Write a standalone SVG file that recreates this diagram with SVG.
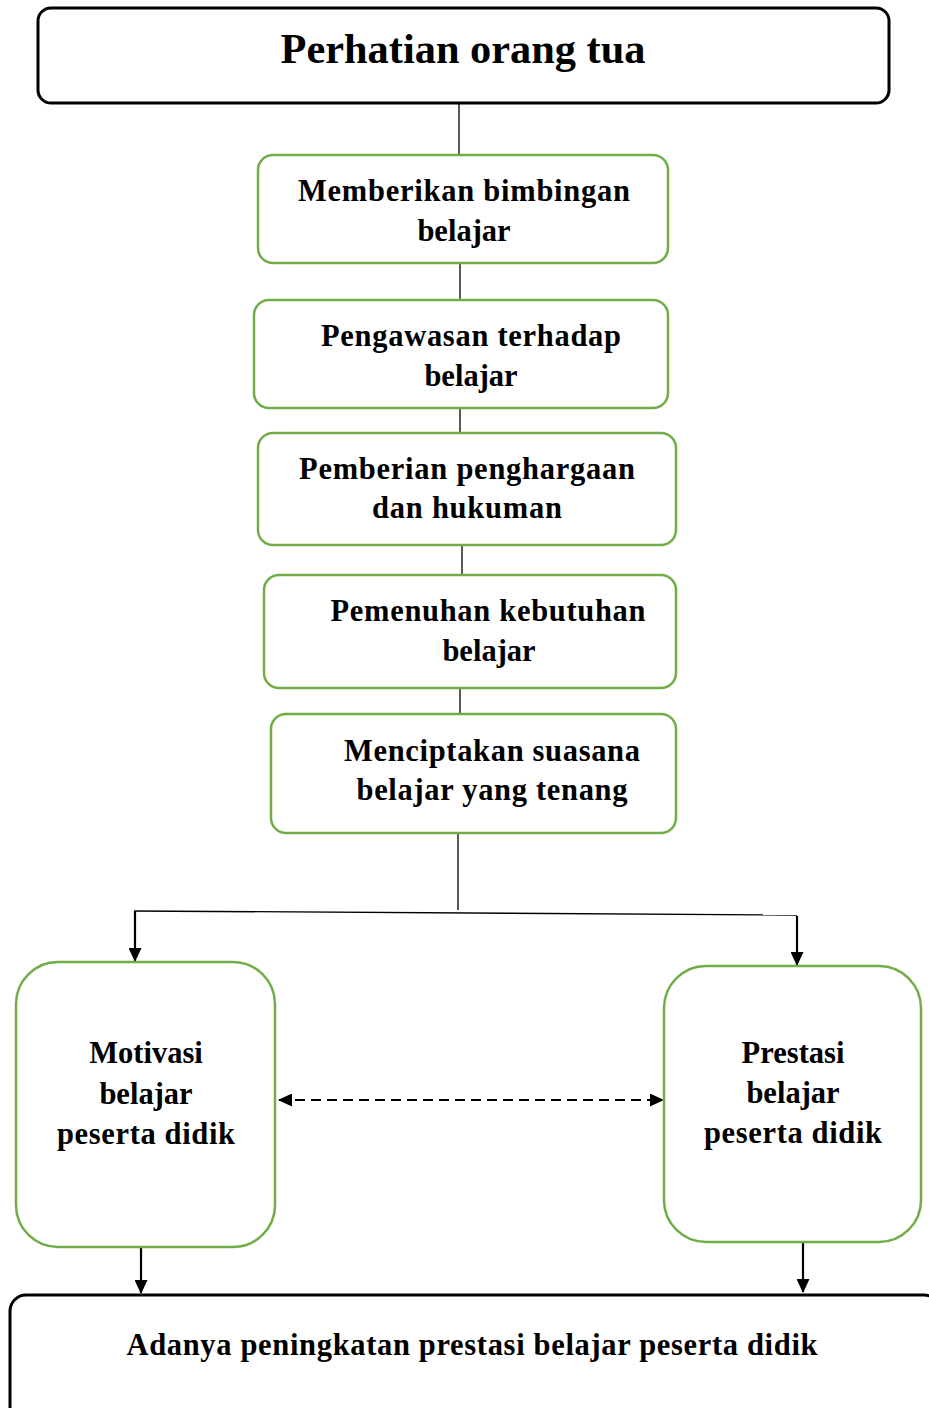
<svg xmlns="http://www.w3.org/2000/svg" width="929" height="1408" viewBox="0 0 929 1408">
<style>
.blk{fill:#fff;stroke:#000;stroke-width:3}
.grn{fill:#fff;stroke:#70AD47;stroke-width:2.5}
.t{font-family:"Liberation Serif","Times New Roman",serif;font-weight:bold;fill:#000;text-anchor:middle}
.m{font-size:30.5px}
.ln{stroke:#000;stroke-width:1.3;fill:none}
.ar{stroke:#000;stroke-width:2.2;fill:none}
</style>
<defs>
<marker id="ah" viewBox="0 0 14 13" refX="13" refY="6.5" markerWidth="14" markerHeight="13" orient="auto-start-reverse" markerUnits="userSpaceOnUse">
<path d="M0,0 L14,6.5 L0,13 z" fill="#000"/>
</marker>
</defs>
<g id="connectors">
<line class="ln" x1="459" y1="103" x2="459" y2="155"/>
<line class="ln" x1="460" y1="263" x2="460" y2="300"/>
<line class="ln" x1="460" y1="408" x2="460" y2="433"/>
<line class="ln" x1="462" y1="545" x2="462" y2="575"/>
<line class="ln" x1="460" y1="688" x2="460" y2="714"/>
<line class="ln" x1="458" y1="833" x2="458" y2="910"/>
<line class="ln" x1="134" y1="911" x2="797" y2="915"/>
<line class="ar" x1="135" y1="911" x2="135" y2="961" marker-end="url(#ah)"/>
<line class="ar" x1="797" y1="916" x2="797" y2="965" marker-end="url(#ah)"/>
<line class="ar" x1="279" y1="1100" x2="663" y2="1100" stroke-dasharray="10,6" marker-start="url(#ah)" marker-end="url(#ah)"/>
<line class="ar" x1="141" y1="1245" x2="141" y2="1293" marker-end="url(#ah)"/>
<line class="ar" x1="803" y1="1243" x2="803" y2="1292" marker-end="url(#ah)"/>
</g>
<g id="n-top">
<rect class="blk" x="38" y="8" width="851" height="95" rx="13"/>
<text class="t" x="463" y="63" font-size="42" textLength="365" lengthAdjust="spacingAndGlyphs">Perhatian orang tua</text>
</g>
<g id="n1">
<rect class="grn" x="258" y="155" width="410" height="108" rx="15"/>
<text class="t m" x="464" y="201" textLength="332" lengthAdjust="spacing">Memberikan bimbingan</text>
<text class="t m" x="464" y="241">belajar</text>
</g>
<g id="n2">
<rect class="grn" x="254" y="300" width="414" height="108" rx="15"/>
<text class="t m" x="471" y="346" textLength="300" lengthAdjust="spacing">Pengawasan terhadap</text>
<text class="t m" x="471" y="386">belajar</text>
</g>
<g id="n3">
<rect class="grn" x="258" y="433" width="418" height="112" rx="15"/>
<text class="t m" x="467" y="479" textLength="336" lengthAdjust="spacing">Pemberian penghargaan</text>
<text class="t m" x="467" y="518" textLength="190" lengthAdjust="spacing">dan hukuman</text>
</g>
<g id="n4">
<rect class="grn" x="264" y="575" width="412" height="113" rx="15"/>
<text class="t m" x="488" y="621" textLength="315" lengthAdjust="spacing">Pemenuhan kebutuhan</text>
<text class="t m" x="489" y="661">belajar</text>
</g>
<g id="n5">
<rect class="grn" x="271" y="714" width="405" height="119" rx="15"/>
<text class="t m" x="492" y="761" textLength="296" lengthAdjust="spacing">Menciptakan suasana</text>
<text class="t m" x="492" y="800" textLength="271" lengthAdjust="spacing">belajar yang tenang</text>
</g>
<g id="n-motivasi">
<rect class="grn" x="16" y="962" width="259" height="285" rx="42"/>
<text class="t m" x="146" y="1063">Motivasi</text>
<text class="t m" x="146" y="1104">belajar</text>
<text class="t m" x="146" y="1144" textLength="178" lengthAdjust="spacing">peserta didik</text>
</g>
<g id="n-prestasi">
<rect class="grn" x="664" y="966" width="257" height="276" rx="42"/>
<text class="t m" x="793" y="1063">Prestasi</text>
<text class="t m" x="793" y="1103">belajar</text>
<text class="t m" x="793" y="1143" textLength="178" lengthAdjust="spacing">peserta didik</text>
</g>
<g id="n-bottom">
<rect class="blk" x="10" y="1295" width="930" height="130" rx="16"/>
<text class="t m" x="472" y="1355" textLength="691" lengthAdjust="spacing">Adanya peningkatan prestasi belajar peserta didik</text>
</g>
</svg>
